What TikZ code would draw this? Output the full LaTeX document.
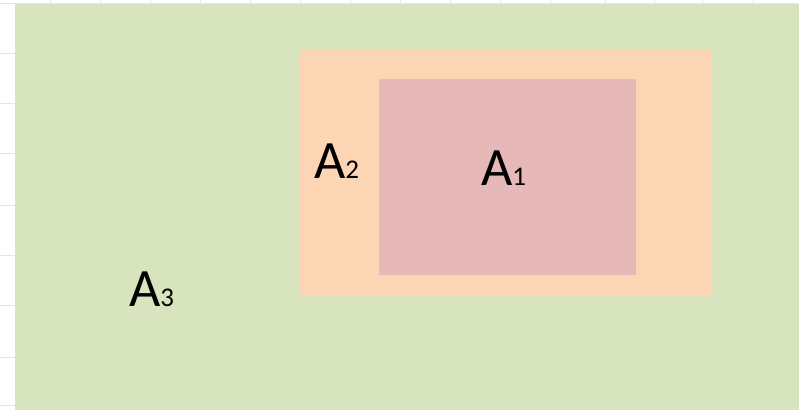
\documentclass[tikz,border=0pt]{standalone}
\usepackage{fontspec}
\setmainfont{Carlito}
\definecolor{gridgray}{RGB}{228,228,228}
\definecolor{areagreen}{RGB}{216,228,189}
\definecolor{areaorange}{RGB}{252,213,180}
\definecolor{areapink}{RGB}{230,184,183}
\tikzset{
  region/.style={draw=none},
  setlabel/.style={anchor=base west, inner sep=0pt, text=black},
}
\newcommand{\setname}[1]{\fontsize{54}{54}\selectfont A\fontsize{27}{27}\selectfont #1}
\begin{document}
\begin{tikzpicture}[x=1pt,y=-1pt]
  \useasboundingbox (0,0) rectangle (799,410);
  \fill[white] (0,0) rectangle (799,410);
  % spreadsheet cell grid behind the sets
  \foreach \gx in {50,100,150,200,250,300,350,400,450,500,550,605,654,702,753}
    \draw[gridgray, line width=1pt] (\gx,0) -- (\gx,410);
  \foreach \gy in {3,53,103,153,205,255,305,357,405}
    \draw[gridgray, line width=1pt] (0,\gy) -- (799,\gy);
  % nested sets
  \fill[areagreen, region] (15,4) rectangle (799,410);
  \fill[areaorange, region] (300,50) rectangle (712,295);
  \fill[areapink, region] (379,79) rectangle (636,275);
  % labels
  \node[setlabel] (a1) at (481,185) {\setname{1}};
  \node[setlabel] (a2) at (314,178) {\setname{2}};
  \node[setlabel] (a3) at (129,306) {\setname{3}};
\end{tikzpicture}
\end{document}
